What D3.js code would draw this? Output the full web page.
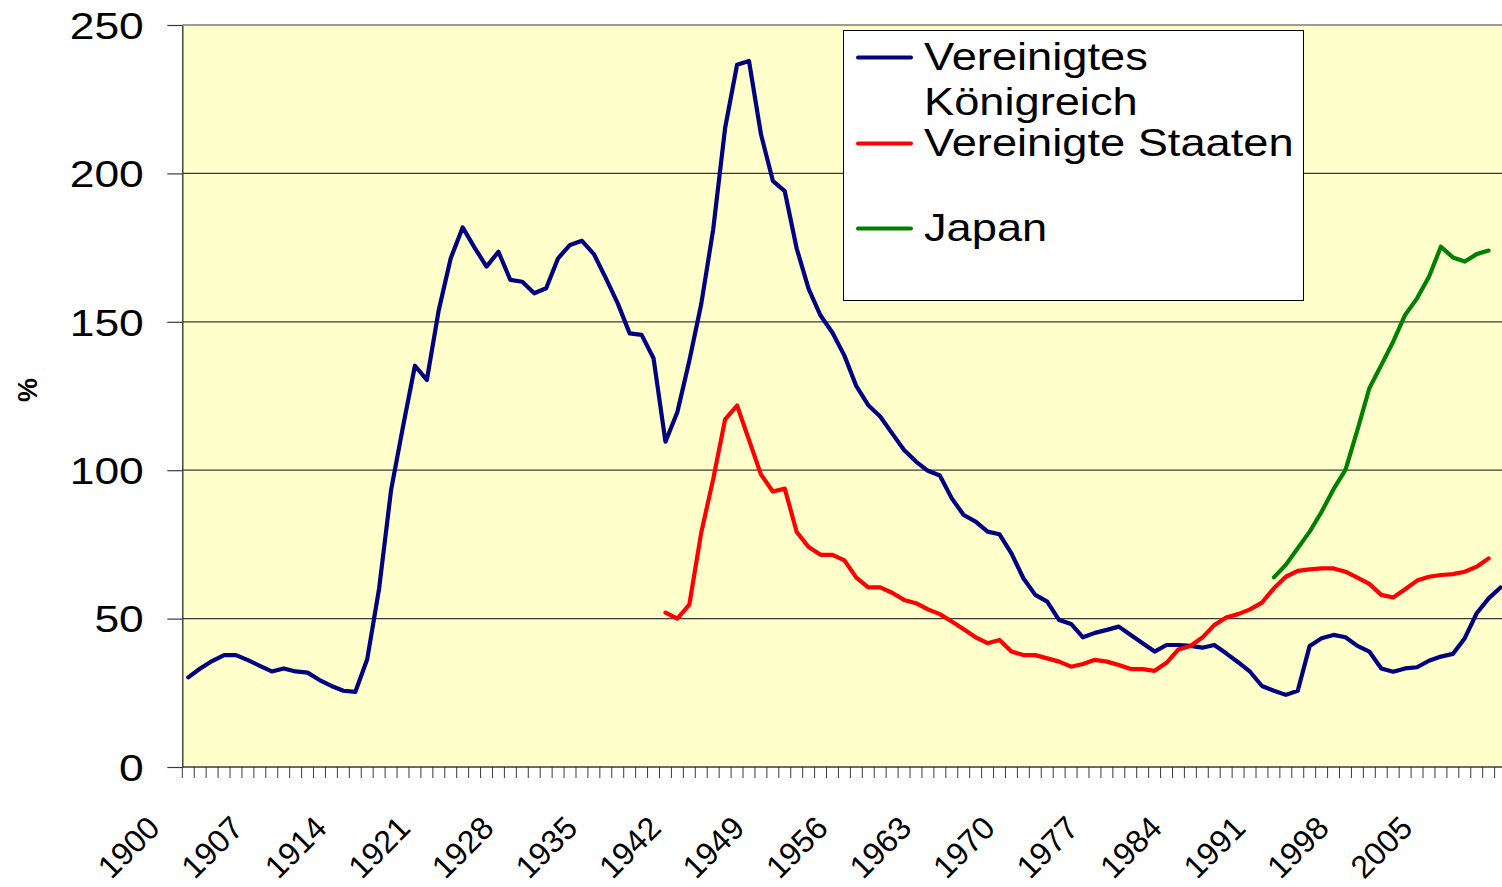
<!DOCTYPE html>
<html>
<head>
<meta charset="utf-8">
<script src="https://cdn.jsdelivr.net/npm/d3@7"></script>
<style>
  html, body { margin: 0; padding: 0; background: #ffffff; overflow: hidden; }
  svg { display: block; }
  text { font-family: "Liberation Sans", Arial, sans-serif; fill: #000; }
</style>
</head>
<body>
<svg id="chart" width="1502" height="887"></svg>
<script>
// ---------------- DATA ----------------
const firstYear = 1900;
const lastYear = 2010;
const tickYears = [1900, 1907, 1914, 1921, 1928, 1935, 1942, 1949, 1956, 1963, 1970, 1977, 1984, 1991, 1998, 2005];
const yTicks = [0, 50, 100, 150, 200, 250];

const seriesNames = ["Vereinigtes Königreich", "Vereinigte Staaten", "Japan"];
const seriesColors = ["#000080", "#FF0000", "#008000"];

// Vereinigtes Königreich, 1900–2010
const ukStart = 1900;
const ukValues = [
  30.2, 33.2, 35.7, 37.7, 37.7, 36.0, 34.1, 32.2, 33.2, 32.2,
  31.8, 29.3, 27.3, 25.7, 25.3, 36.3, 60.2, 93.3, 114.7, 135.2,
  130.4, 154.0, 171.4, 181.8, 175.0, 168.6, 173.6, 164.1, 163.5, 159.6,
  161.3, 171.4, 175.9, 177.3, 172.8, 164.7, 156.2, 146.1, 145.6, 137.7,
  109.6, 119.6, 136.9, 156.0, 181.1, 215.3, 236.6, 237.9, 213.3, 197.5,
  194.0, 174.7, 161.1, 152.1, 146.3, 138.6, 128.3, 121.9, 118.1, 112.4,
  106.8, 102.9, 99.8, 98.2, 90.5, 84.9, 82.7, 79.3, 78.4, 72.0,
  63.6, 58.0, 55.7, 49.5, 48.2, 43.7, 45.2, 46.2, 47.3, 44.5,
  41.7, 38.9, 41.1, 41.1, 40.8, 40.2, 41.1, 38.3, 35.3, 32.1,
  27.3, 25.7, 24.3, 25.7, 40.8, 43.4, 44.5, 43.7, 40.8, 38.9,
  33.2, 32.1, 33.2, 33.6, 35.8, 37.2, 38.1, 43.4, 51.8, 56.8,
  60.5
];

// Vereinigte Staaten, 1940–2009
const usStart = 1940;
const usValues = [
  52.0, 50.0, 54.7, 79.0, 97.0, 117.1, 121.8, 110.2, 98.6, 92.8,
  93.8, 79.2, 74.1, 71.5, 71.5, 69.6, 63.8, 60.5, 60.5, 58.7,
  56.3, 55.2, 53.1, 51.5, 49.0, 46.4, 43.7, 41.7, 42.8, 38.9,
  37.7, 37.7, 36.6, 35.5, 33.8, 34.7, 36.1, 35.5, 34.4, 33.0,
  33.0, 32.4, 35.1, 39.6, 40.8, 43.6, 47.8, 50.4, 51.5, 53.1,
  55.4, 60.2, 64.1, 66.1, 66.6, 66.9, 66.9, 65.8, 63.8, 61.7,
  58.0, 57.1, 59.9, 62.8, 64.1, 64.7, 65.0, 65.8, 67.5, 70.3
];

// Japan, 1991–2009
const jpStart = 1991;
const jpValues = [
  63.9, 68.1, 73.7, 79.3, 86.0, 93.6, 100.1, 113.5, 127.6, 135.4,
  143.3, 152.3, 157.9, 165.2, 175.3, 171.7, 170.3, 172.8, 174.0
];

// ---------------- CHART ----------------
const years = d3.range(firstYear, lastYear + 1);
const svg = d3.select("#chart");

const plotLeft = 182.3, plotTop = 25, plotBottom = 767;
const step = 11.93;
const plotRight = plotLeft + years.length * step;

const x = d3.scaleBand().domain(years).range([plotLeft, plotRight]).paddingInner(0).paddingOuter(0);
const y = d3.scaleLinear().domain([0, 250]).range([plotBottom, plotTop]);
const bw = x.bandwidth();
const cx = yr => x(yr) + bw / 2;

// plot background
svg.append("rect")
  .attr("x", plotLeft).attr("y", plotTop)
  .attr("width", plotRight - plotLeft).attr("height", plotBottom - plotTop)
  .attr("fill", "#FFFFCC");

// gridlines
svg.append("g").selectAll("line")
  .data(yTicks.filter(d => d > 0))
  .join("line")
  .attr("x1", plotLeft).attr("x2", plotRight)
  .attr("y1", d => y(d)).attr("y2", d => y(d))
  .attr("stroke", "#3a3a3a").attr("stroke-width", 1.2);

// y axis
const yAxis = svg.append("g")
  .attr("transform", `translate(${plotLeft},0)`)
  .call(d3.axisLeft(y).tickValues(yTicks).tickSize(15).tickSizeOuter(0).tickFormat(d3.format("d")));
yAxis.select(".domain").attr("stroke", "#3a3a3a").attr("stroke-width", 1.4);
yAxis.selectAll(".tick line").attr("stroke", "#3a3a3a").attr("stroke-width", 1.2);
const ySx = 1.2;
yAxis.selectAll(".tick text")
  .attr("x", null).attr("dy", "0.36em")
  .attr("text-anchor", "end")
  .style("font-size", "37px")
  .attr("font-family", null)
  .attr("fill", "#000")
  .attr("transform", `translate(-38.5,0) scale(${ySx},1)`);

// x axis line
svg.append("line")
  .attr("x1", plotLeft).attr("x2", plotRight)
  .attr("y1", plotBottom).attr("y2", plotBottom)
  .attr("stroke", "#3a3a3a").attr("stroke-width", 1.4);

// x tick marks at category boundaries
svg.append("g").selectAll("line")
  .data(years)
  .join("line")
  .attr("x1", d => x(d)).attr("x2", d => x(d))
  .attr("y1", plotBottom).attr("y2", plotBottom + 11)
  .attr("stroke", "#3a3a3a").attr("stroke-width", 1);

// x tick labels
svg.append("g").selectAll("text")
  .data(tickYears)
  .join("text")
  .attr("transform", d => `translate(${cx(d) - 26.6},830) rotate(-45)`)
  .attr("text-anchor", "end")
  .style("font-size", "32px")
  .text(d => d);

// y axis title
svg.append("text")
  .attr("transform", "translate(37,390) rotate(-90)")
  .attr("text-anchor", "middle")
  .style("font-size", "27px")
  .style("font-weight", "bold")
  .text("%");

// series lines
const line = d3.line()
  .defined(d => d.v != null)
  .x(d => cx(d.year))
  .y(d => y(d.v));

const series = [
  { start: ukStart, values: ukValues },
  { start: usStart, values: usValues },
  { start: jpStart, values: jpValues }
];

series.forEach((s, i) => {
  const pts = s.values.map((v, k) => ({ year: s.start + k, v }));
  svg.append("path")
    .datum(pts)
    .attr("d", line)
    .attr("fill", "none")
    .attr("stroke", seriesColors[i])
    .attr("stroke-width", 4.2)
    .attr("stroke-linejoin", "round")
    .attr("stroke-linecap", "round");
});

// legend
const lg = svg.append("g");
lg.append("rect")
  .attr("x", 843.5).attr("y", 30.5)
  .attr("width", 460).attr("height", 270)
  .attr("fill", "#ffffff").attr("stroke", "#000").attr("stroke-width", 1);

const legendLineY = [57.5, 143.5, 228.5];
const legendTextLines = [["Vereinigtes", "Königreich"], ["Vereinigte Staaten"], ["Japan"]];
const legendBaselines = [[70, 115], [156], [241]];
const lSx = 1.16;

legendLineY.forEach((ly, i) => {
  lg.append("line")
    .attr("x1", 858).attr("x2", 911)
    .attr("y1", ly).attr("y2", ly)
    .attr("stroke", seriesColors[i])
    .attr("stroke-width", 4)
    .attr("stroke-linecap", "round");
  legendTextLines[i].forEach((t, k) => {
    lg.append("text")
      .attr("transform", `translate(924,${legendBaselines[i][k]}) scale(${lSx},1)`)
      .style("font-size", "39px")
      .text(t);
  });
});
</script>
</body>
</html>
